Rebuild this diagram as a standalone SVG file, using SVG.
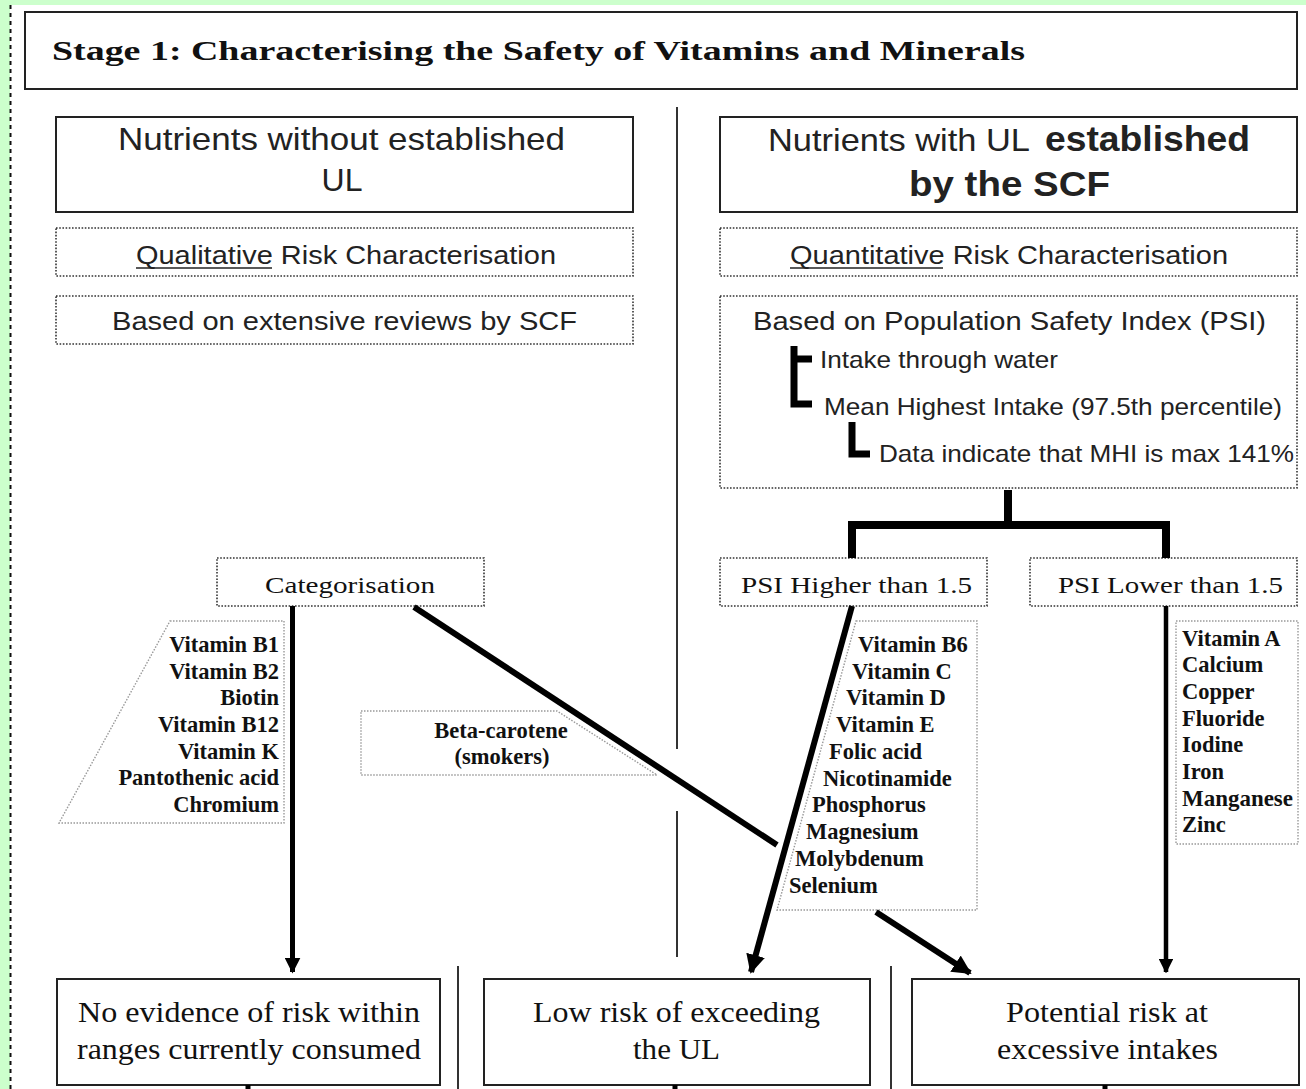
<svg xmlns="http://www.w3.org/2000/svg" width="1306" height="1089" viewBox="0 0 1306 1089">
<defs>
<style>
.solid{fill:#fff;stroke:#222;stroke-width:2}
.dot{fill:#fff;stroke:#333;stroke-width:1.6;stroke-dasharray:1.6 1.6}
.gdot{fill:none;stroke:#999;stroke-width:1.4;stroke-dasharray:1.5 1.5}
.sans{font-family:"Liberation Sans",Arial,sans-serif;fill:#222}
.serif{font-family:"Liberation Serif","Times New Roman",serif;fill:#111}
.b{font-weight:bold}
.list{font-family:"Liberation Serif","Times New Roman",serif;font-weight:bold;font-size:22.5px;fill:#111}
.thick{fill:none;stroke:#000;stroke-linecap:butt}
.div{stroke:#333;stroke-width:2}
</style>
<marker id="ah" viewBox="0 0 10 10" refX="9" refY="5" markerWidth="3.2" markerHeight="3.2" orient="auto" markerUnits="strokeWidth">
<path d="M0,0 L10,5 L0,10 z" fill="#000"/>
</marker>
</defs>
<rect x="0" y="0" width="1306" height="1089" fill="#ccffcc"/>
<rect x="10" y="5" width="1296" height="1084" fill="#fff"/>
<line x1="10.5" y1="5" x2="10.5" y2="1089" stroke="#111" stroke-width="2" stroke-dasharray="4 4"/>

<g id="title">
<rect class="solid" x="25" y="12" width="1272" height="77"/>
<text class="serif b" x="52" y="60" font-size="28" textLength="973" lengthAdjust="spacingAndGlyphs">Stage 1: Characterising the Safety of Vitamins and Minerals</text>
</g>

<g id="dividers">
<line class="div" x1="677" y1="107" x2="677" y2="749"/>
<line class="div" x1="677" y1="811" x2="677" y2="957"/>
<line class="div" x1="458" y1="966" x2="458" y2="1089"/>
<line class="div" x1="891" y1="966" x2="891" y2="1089"/>
</g>

<g id="no-ul">
<rect class="solid" x="56" y="117" width="577" height="95"/>
<text class="sans" x="118" y="150" font-size="32" textLength="447" lengthAdjust="spacingAndGlyphs">Nutrients without established</text>
<text class="sans" x="342" y="191" font-size="32" text-anchor="middle">UL</text>
</g>

<g id="with-ul">
<rect class="solid" x="720" y="117" width="577" height="95"/>
<text class="sans" x="768" y="151" font-size="32" textLength="262" lengthAdjust="spacingAndGlyphs">Nutrients with UL</text>
<text class="sans b" x="1045" y="151" font-size="35" textLength="205" lengthAdjust="spacingAndGlyphs">established</text>
<text class="sans b" x="909" y="196" font-size="35" textLength="201" lengthAdjust="spacingAndGlyphs">by the SCF</text>
</g>

<g id="qualitative">
<rect class="dot" x="56" y="228" width="577" height="48"/>
<text class="sans" x="136" y="264" font-size="26" textLength="420" lengthAdjust="spacingAndGlyphs">Qualitative Risk Characterisation</text>
<line x1="136" y1="268" x2="272" y2="268" stroke="#222" stroke-width="1.5"/>
</g>

<g id="quantitative">
<rect class="dot" x="720" y="228" width="577" height="48"/>
<text class="sans" x="790" y="264" font-size="26" textLength="438" lengthAdjust="spacingAndGlyphs">Quantitative Risk Characterisation</text>
<line x1="790" y1="268" x2="943" y2="268" stroke="#222" stroke-width="1.5"/>
</g>

<g id="reviews">
<rect class="dot" x="56" y="296" width="577" height="48"/>
<text class="sans" x="112" y="330" font-size="26" textLength="465" lengthAdjust="spacingAndGlyphs">Based on extensive reviews by SCF</text>
</g>

<g id="psi-box">
<rect class="dot" x="720" y="296" width="577" height="192"/>
<text class="sans" x="753" y="330" font-size="26" textLength="513" lengthAdjust="spacingAndGlyphs">Based on Population Safety Index (PSI)</text>
<text class="sans" x="820" y="368" font-size="24" textLength="238" lengthAdjust="spacingAndGlyphs">Intake through water</text>
<text class="sans" x="824" y="415" font-size="24" textLength="458" lengthAdjust="spacingAndGlyphs">Mean Highest Intake (97.5th percentile)</text>
<text class="sans" x="879" y="462" font-size="24" textLength="415" lengthAdjust="spacingAndGlyphs">Data indicate that MHI is max 141%</text>
<path class="thick" stroke-width="7" d="M794,346 V404 H812 M794,359 H812"/>
<path class="thick" stroke-width="7" d="M852,422 V454 H870"/>
</g>

<g id="categorisation">
<rect class="dot" x="217" y="558" width="267" height="48"/>
<text class="serif" x="350" y="593" font-size="24" text-anchor="middle" textLength="170" lengthAdjust="spacingAndGlyphs">Categorisation</text>
</g>

<g id="psi-higher">
<rect class="dot" x="720" y="558" width="267" height="48"/>
<text class="serif" x="741" y="593" font-size="24" textLength="231" lengthAdjust="spacingAndGlyphs">PSI Higher than 1.5</text>
</g>

<g id="psi-lower">
<rect class="dot" x="1030" y="558" width="267" height="48"/>
<text class="serif" x="1058" y="593" font-size="24" textLength="225" lengthAdjust="spacingAndGlyphs">PSI Lower than 1.5</text>
</g>

<g id="list-left">
<polygon class="gdot" points="170,621 284,621 284,823 59,823"/>
<g class="list" text-anchor="end">
<text x="279" y="652">Vitamin B1</text>
<text x="279" y="679">Vitamin B2</text>
<text x="279" y="705">Biotin</text>
<text x="279" y="732">Vitamin B12</text>
<text x="279" y="759">Vitamin K</text>
<text x="279" y="785">Pantothenic acid</text>
<text x="279" y="812">Chromium</text>
</g>
</g>

<g id="beta-carotene">
<polygon class="gdot" points="361,711 557,711 657,775 361,775"/>
<text class="list" x="501" y="738" text-anchor="middle">Beta-carotene</text>
<text class="list" x="502" y="764" text-anchor="middle">(smokers)</text>
</g>

<g id="list-higher">
<polygon class="gdot" points="856,621 977,621 977,910 777,910"/>
<g class="list">
<text x="858" y="652">Vitamin B6</text>
<text x="852" y="679">Vitamin C</text>
<text x="846" y="705">Vitamin D</text>
<text x="836" y="732">Vitamin E</text>
<text x="829" y="759">Folic acid</text>
<text x="823" y="786">Nicotinamide</text>
<text x="812" y="812">Phosphorus</text>
<text x="806" y="839">Magnesium</text>
<text x="795" y="866">Molybdenum</text>
<text x="789" y="893">Selenium</text>
</g>
</g>

<g id="list-lower">
<rect class="gdot" x="1176" y="621" width="122" height="223"/>
<g class="list">
<text x="1182" y="646">Vitamin A</text>
<text x="1182" y="672">Calcium</text>
<text x="1182" y="699">Copper</text>
<text x="1182" y="726">Fluoride</text>
<text x="1182" y="752">Iodine</text>
<text x="1182" y="779">Iron</text>
<text x="1182" y="806" textLength="111" lengthAdjust="spacingAndGlyphs">Manganese</text>
<text x="1182" y="832">Zinc</text>
</g>
</g>

<g id="no-evidence">
<rect class="solid" x="57" y="979" width="383" height="106"/>
<text class="serif" x="78" y="1022" font-size="30" textLength="342" lengthAdjust="spacingAndGlyphs">No evidence of risk within</text>
<text class="serif" x="77" y="1059" font-size="30" textLength="344" lengthAdjust="spacingAndGlyphs">ranges currently consumed</text>
</g>

<g id="low-risk">
<rect class="solid" x="484" y="979" width="386" height="106"/>
<text class="serif" x="533" y="1022" font-size="30" textLength="287" lengthAdjust="spacingAndGlyphs">Low risk of exceeding</text>
<text class="serif" x="633" y="1059" font-size="30" textLength="87" lengthAdjust="spacingAndGlyphs">the UL</text>
</g>

<g id="potential-risk">
<rect class="solid" x="912" y="979" width="387" height="106"/>
<text class="serif" x="1006" y="1022" font-size="30" textLength="202" lengthAdjust="spacingAndGlyphs">Potential risk at</text>
<text class="serif" x="997" y="1059" font-size="30" textLength="221" lengthAdjust="spacingAndGlyphs">excessive intakes</text>
</g>

<g id="connectors">
<path class="thick" stroke-width="8" d="M1008,490 V525 M852,558 V525 H1166 V558"/>
<line class="thick" stroke-width="5" x1="292.5" y1="606" x2="292.5" y2="972" marker-end="url(#ah)"/>
<line class="thick" stroke-width="6" x1="414" y1="607" x2="777" y2="845"/>
<line class="thick" stroke-width="6" x1="852" y1="606" x2="751" y2="972" marker-end="url(#ah)"/>
<line class="thick" stroke-width="4.5" x1="1166" y1="606" x2="1166" y2="972" marker-end="url(#ah)"/>
<line class="thick" stroke-width="6" x1="876" y1="912" x2="970" y2="973" marker-end="url(#ah)"/>
<line class="thick" stroke-width="5" x1="248" y1="1085" x2="248" y2="1089"/>
<line class="thick" stroke-width="5" x1="675" y1="1085" x2="675" y2="1089"/>
<line class="thick" stroke-width="5" x1="1105" y1="1085" x2="1105" y2="1089"/>
</g>
</svg>
